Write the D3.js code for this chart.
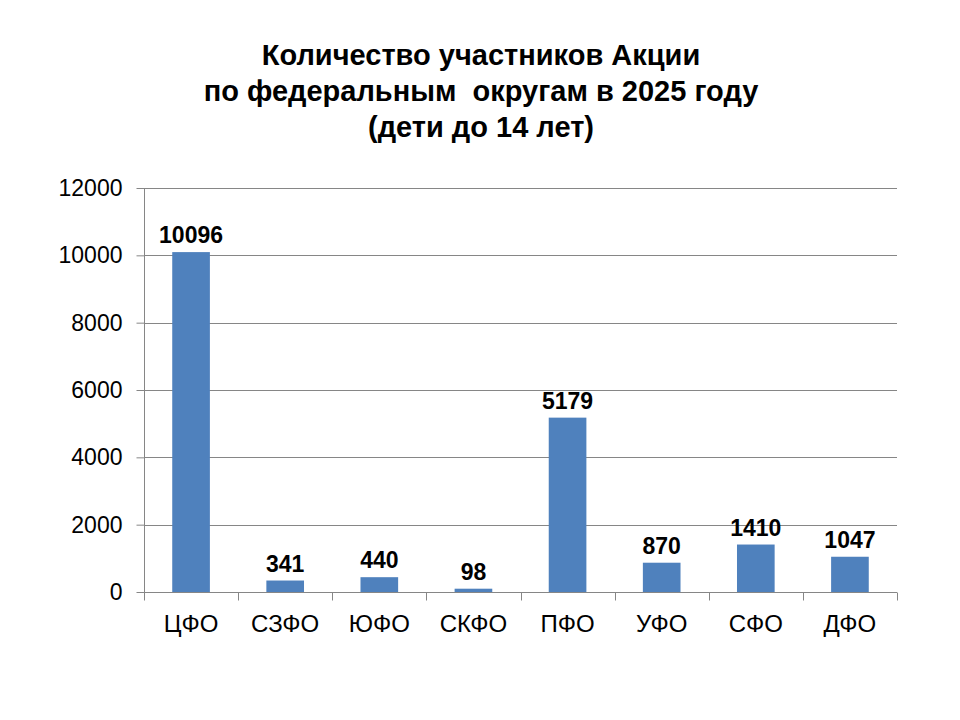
<!DOCTYPE html>
<html>
<head>
<meta charset="utf-8">
<script src="https://cdn.jsdelivr.net/npm/d3@7"></script>
<style>
  body { margin: 0; background: #fff; }
  text { font-family: "Liberation Sans", Arial, sans-serif; }
</style>
</head>
<body>
<div id="chart"></div>
<script>
const width = 960;
const height = 720;

// Данные
const districts = ["ЦФО", "СЗФО", "ЮФО", "СКФО", "ПФО", "УФО", "СФО", "ДФО"];
const participants = [10096, 341, 440, 98, 5179, 870, 1410, 1047];
const yTicks = [0, 2000, 4000, 6000, 8000, 10000, 12000];
const titleLines = [
  "Количество участников Акции",
  "по федеральным  округам в 2025 году",
  "(дети до 14 лет)"
];

const plot = { left: 144, right: 897, top: 188, bottom: 592 };

const svg = d3.select("#chart")
  .append("svg")
  .attr("width", width)
  .attr("height", height);

svg.append("rect").attr("width", width).attr("height", height).attr("fill", "#fff");

// Заголовок
svg.append("g")
  .selectAll("text")
  .data(titleLines)
  .enter()
  .append("text")
  .attr("x", 481)
  .attr("y", (d, i) => 65 + i * 36)
  .attr("text-anchor", "middle")
  .attr("font-size", 29)
  .attr("font-weight", "bold")
  .attr("fill", "#000")
  .style("white-space", "pre")
  .text(d => d);

const x = d3.scaleBand()
  .domain(districts)
  .range([plot.left, plot.right])
  .paddingInner(0.6)
  .paddingOuter(0.3);

const y = d3.scaleLinear()
  .domain([0, 12000])
  .range([plot.bottom, plot.top]);

// Сетка
svg.append("g")
  .selectAll("line")
  .data(yTicks.filter(d => d > 0))
  .enter()
  .append("line")
  .attr("x1", plot.left)
  .attr("x2", plot.right)
  .attr("y1", d => Math.round(y(d)) + 0.5)
  .attr("y2", d => Math.round(y(d)) + 0.5)
  .attr("stroke", "#868686")
  .attr("stroke-width", 1);

// Ось Y
const yAxis = svg.append("g")
  .attr("transform", `translate(${plot.left + 0.5},0)`)
  .call(d3.axisLeft(y).tickValues(yTicks).tickFormat(d3.format("d")).tickSize(8).tickPadding(14));
yAxis.selectAll("text").attr("font-size", 23).attr("fill", "#000")
  .style("font-family", "'Liberation Sans', Arial, sans-serif");
yAxis.selectAll("line, path").attr("stroke", "#868686");
yAxis.select(".domain").attr("d", `M0,${plot.top}V${plot.bottom}`);

// Столбцы
svg.append("g")
  .selectAll("rect")
  .data(participants)
  .enter()
  .append("rect")
  .attr("x", (d, i) => x(districts[i]))
  .attr("width", x.bandwidth())
  .attr("y", d => y(d))
  .attr("height", d => plot.bottom - y(d))
  .attr("fill", "#4F81BD");

// Подписи значений
svg.append("g")
  .selectAll("text")
  .data(participants)
  .enter()
  .append("text")
  .attr("x", (d, i) => x(districts[i]) + x.bandwidth() / 2)
  .attr("y", d => y(d) - 9)
  .attr("text-anchor", "middle")
  .attr("font-size", 23)
  .attr("font-weight", "bold")
  .attr("fill", "#000")
  .text(d => d);

// Ось X
const step = x.step();
const xAxis = svg.append("g")
  .attr("transform", `translate(0,${plot.bottom + 0.5})`);
xAxis.append("line")
  .attr("x1", plot.left).attr("x2", plot.right)
  .attr("stroke", "#868686");
xAxis.selectAll(".tick")
  .data(d3.range(districts.length + 1))
  .enter()
  .append("line")
  .attr("x1", i => Math.round(plot.left + i * step) + 0.5)
  .attr("x2", i => Math.round(plot.left + i * step) + 0.5)
  .attr("y1", 0).attr("y2", 8)
  .attr("stroke", "#868686");
xAxis.selectAll("text")
  .data(districts)
  .enter()
  .append("text")
  .attr("x", d => x(d) + x.bandwidth() / 2)
  .attr("y", 39)
  .attr("text-anchor", "middle")
  .attr("font-size", 24)
  .attr("fill", "#000")
  .text(d => d);
</script>
</body>
</html>
